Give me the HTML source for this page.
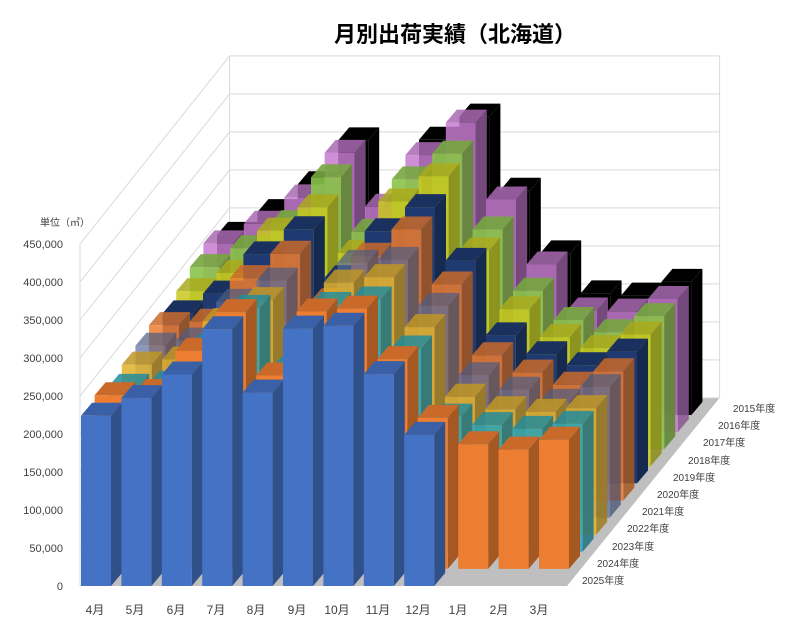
<!DOCTYPE html>
<html><head><meta charset="utf-8"><style>
body{margin:0;background:#fff;}
svg text{font-family:"Liberation Sans","Noto Sans CJK JP",sans-serif;fill:#404040;}
</style></head><body>
<svg id="s" width="809" height="627" xmlns="http://www.w3.org/2000/svg">
<rect width="809" height="627" fill="#fff"/>
<g id="walls"></g>
<g id="bars"></g>
<text x="455" y="42" text-anchor="middle" font-size="22" font-weight="bold" style="fill:#000">月別出荷実績（北海道）</text>
<g font-size="11" text-anchor="end">
<text x="63" y="590">0</text><text x="63" y="552">50,000</text><text x="63" y="514">100,000</text><text x="63" y="476">150,000</text><text x="63" y="438">200,000</text><text x="63" y="400">250,000</text><text x="63" y="362">300,000</text><text x="63" y="324">350,000</text><text x="63" y="286">400,000</text><text x="63" y="248">450,000</text>
</g>
<text x="40" y="226" font-size="10">単位（㎥）</text>
<g font-size="12" text-anchor="middle">
<text x="95" y="614">4月</text><text x="135" y="614">5月</text><text x="176" y="614">6月</text><text x="216" y="614">7月</text><text x="256" y="614">8月</text><text x="297" y="614">9月</text><text x="337" y="614">10月</text><text x="378" y="614">11月</text><text x="418" y="614">12月</text><text x="458" y="614">1月</text><text x="499" y="614">2月</text><text x="539" y="614">3月</text>
</g>
<g font-size="10">
<text x="582" y="584">2025年度</text><text x="597" y="567">2024年度</text><text x="612" y="550">2023年度</text><text x="627" y="532">2022年度</text><text x="642" y="515">2021年度</text><text x="657" y="498">2020年度</text><text x="673" y="481">2019年度</text><text x="688" y="464">2018年度</text><text x="703" y="446">2017年度</text><text x="718" y="429">2016年度</text><text x="733" y="412">2015年度</text>
</g>
</svg>
<script>
var NS="http://www.w3.org/2000/svg";
function poly(g,pts,fill,op){var p=document.createElementNS(NS,"polygon");p.setAttribute("points",pts.map(function(a){return a.join(",")}).join(" "));p.setAttribute("fill",fill);if(op<1)p.setAttribute("fill-opacity",op);g.appendChild(p);}
function line(g,x1,y1,x2,y2){var l=document.createElementNS(NS,"line");l.setAttribute("x1",x1);l.setAttribute("y1",y1);l.setAttribute("x2",x2);l.setAttribute("y2",y2);l.setAttribute("stroke","#D9D9D9");g.appendChild(l);}
var W=document.getElementById("walls");
var DX=13.6,DY=-17.1,R=11,K=0.76/1000;
var bx=80+DX*R,by=586+DY*R;
poly(W,[[80,586],[bx,by],[bx+490,by],[567,586]],"#BFBFBF",1);
for(var i=0;i<=9;i++){line(W,80,586-i*38,bx,by-i*38);line(W,bx,by-i*38,bx+490,by-i*38);}
line(W,bx,by,bx,by-342);line(W,bx+490,by,bx+490,by-342);line(W,80,586,80,244);
var cols=["#4472C4","#ED7D31","#2AA5B8","#E2B22C","#5A6C9C","#ED7D31","#1F3A70","#C8C820","#8BC34A","#C77BD0","#000000"];
var ops=[1,1,0.85,0.85,0.7,0.85,1,0.85,0.9,0.85,1];
var base=[224,240,284,328,257,332,353,276,193,165,157,170];
var sc=[1,1.0,0.95,0.97,0.98,1.0,1.03,1.06,1.08,1.12,1.08];
var jit=[0,0.03,-0.02,0.03,-0.01,0.02,-0.03,0.01,0.03,-0.01,0.02,-0.03];
function shade(c,f){var n=parseInt(c.slice(1),16),r=n>>16,g=(n>>8)&255,b=n&255;return "rgb("+Math.round(r*f)+","+Math.round(g*f)+","+Math.round(b*f)+")";}
var B=document.getElementById("bars");
for(var r=R-1;r>=0;r--){for(var m=0;m<12;m++){if(r==0&&m>=9)continue;
var v;
if(m>=9){v=(r==1)?[164,157,170][m-9]:base[m]*(1+jit[(m+r*5)%12]);}
else v=base[m]*sc[r]*(1+jit[(m+r*5)%12]);
var h=v*1000*K,x=80+40.4*m+DX*r+1,y0=586+DY*r,w=30,dx=11,dy=-13;
var c=cols[r],o=ops[r];
poly(B,[[x+w,y0],[x+w+dx,y0+dy],[x+w+dx,y0+dy-h],[x+w,y0-h]],shade(c,0.7),o);
poly(B,[[x,y0-h],[x+dx,y0-h+dy],[x+w+dx,y0-h+dy],[x+w,y0-h]],shade(c,0.85),o);
poly(B,[[x,y0],[x+w,y0],[x+w,y0-h],[x,y0-h]],c,o);
}}
</script>
</body></html>
